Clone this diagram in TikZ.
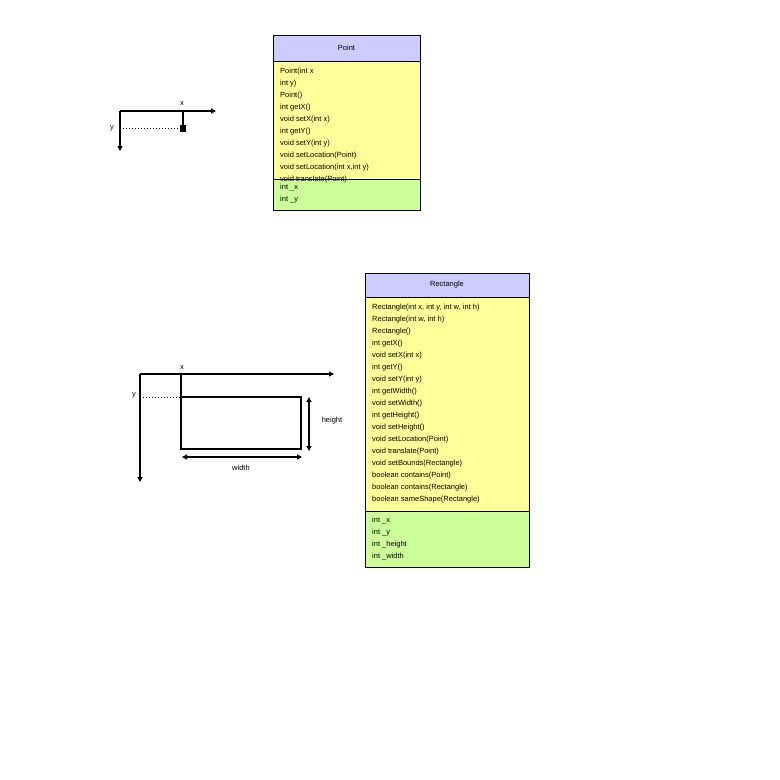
\documentclass[tikz,border=0pt]{standalone}
\usepackage{fontspec}
\setmainfont{Liberation Sans}
\usetikzlibrary{arrows.meta}
\definecolor{hdr}{HTML}{CCCCFF}
\definecolor{mth}{HTML}{FFFF99}
\definecolor{fld}{HTML}{CCFF99}
\tikzset{
 part/.style={draw,line width=1pt},
 txt/.style={anchor=west,inner sep=0,font=\fontsize{7.5}{8}\selectfont},
 lbl/.style={inner sep=0,font=\fontsize{7.5}{8}\selectfont},
 axis/.style={line width=1.3pt,-{Triangle[length=5pt,width=5pt]}},
 ln/.style={line width=1.3pt},
 dot/.style={dotted,line width=1pt},
 dim/.style={line width=1.3pt,{Triangle[length=5pt,width=5pt]}-{Triangle[length=5pt,width=5pt]}}
}
\begin{document}
\begin{tikzpicture}[x=1pt,y=-1pt]
\useasboundingbox (0,0) rectangle (780,780);
% Point class
\draw[part,fill=hdr] (273,35) rectangle (420,61);
\draw[part,fill=mth] (273,61) rectangle (420,179);
\draw[part,fill=fld] (273,179) rectangle (420,210);
\node[lbl] (pt) at (346.5,48) {Point};
\foreach \t [count=\i from 0] in {Point(int x, int y),Point(),int getX(),void setX(int x),int getY(),void setY(int y),void setLocation(Point),{void setLocation(int x,int y)},void translate(Point)}
  \node[txt] at (280,72+12*\i) {\t};
\node[txt] at (280,188) {int \_x};
\node[txt] at (280,200) {int \_y};
% Rectangle class
\draw[part,fill=hdr] (365,273) rectangle (529,297);
\draw[part,fill=mth] (365,297) rectangle (529,511);
\draw[part,fill=fld] (365,511) rectangle (529,567);
\node[lbl] (rt) at (447,285) {Rectangle};
\foreach \t [count=\i from 0] in {{Rectangle(int x, int y, int w, int h)},{Rectangle(int w, int h)},Rectangle(),int getX(),void setX(int x),int getY(),void setY(int y),int getWidth(),void setWidth(),int getHeight(),void setHeight(),void setLocation(Point),void translate(Point),void setBounds(Rectangle),boolean contains(Point),boolean contains(Rectangle),boolean sameShape(Rectangle)}
  \node[txt] at (372,308+12*\i) {\t};
\foreach \t [count=\i from 0] in {int \_x,int \_y,int \_height,int \_width}
  \node[txt] at (372,521+12*\i) {\t};
% small axes
\coordinate (o1) at (120,111);
\coordinate (xe1) at (216,111);
\coordinate (ye1) at (120,151);
\coordinate (px) at (183,111);
\coordinate (pp) at (183,128);
\coordinate (py) at (120,128);
\draw[axis] (o1) -- (xe1);
\draw[axis] (o1) -- (ye1);
\draw[ln] (px) -- (pp);
\draw[dot] (py) -- (pp);
\fill (180,124.5) rectangle (186,131.5);
\node[lbl] (x1) at (182,104) {x};
\node[lbl] (y1) at (112,128) {y};
% big axes
\coordinate (o2) at (140,374);
\coordinate (xe2) at (334,374);
\coordinate (ye2) at (140,482);
\coordinate (rx) at (181,374);
\coordinate (ry) at (140,397);
\draw[axis] (o2) -- (xe2);
\draw[axis] (o2) -- (ye2);
\draw[ln] (rx) -- (181,397);
\draw[dot] (ry) -- (181,397);
\draw[ln] (181,397) rectangle (301,449);
\draw[dim] (309,397) -- (309,451);
\draw[dim] (182,457) -- (302,457);
\node[lbl] (x2) at (182,368) {x};
\node[lbl] (y2) at (134,395) {y};
\node[lbl] (h) at (332,421) {height};
\node[lbl] (w) at (241,468) {width};
\end{tikzpicture}
\end{document}
